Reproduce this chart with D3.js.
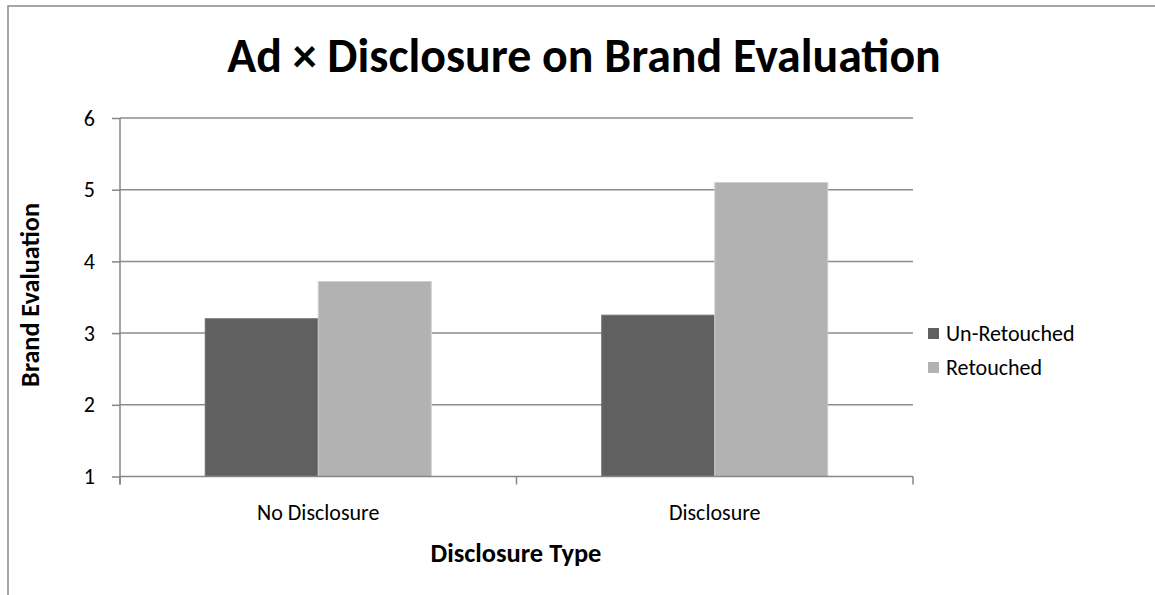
<!DOCTYPE html>
<html><head><meta charset="utf-8">
<script src="https://cdn.jsdelivr.net/npm/d3@7"></script>
<style>body{margin:0;background:#fff;} svg{display:block;} text{font-family:Carlito,Calibri,Lato,"Open Sans",sans-serif;fill:#000;}</style>
</head><body><svg id="c" width="1155" height="595"></svg>
<script>
const categories = ["No Disclosure", "Disclosure"];
const seriesNames = ["Un-Retouched", "Retouched"];
const unRetouched = [3.2, 3.25];
const retouched = [3.72, 5.1];
const yTicks = [1, 2, 3, 4, 5, 6];
const colors = ["#606060", "#b2b2b2"];
const strokes = ["#6e6e6e", "#cfcfcf"];

const svg = d3.select("#c");
const L = 120, R = 913, T = 118, B = 476.5;
const FS = 22;

function fit(sel, w) {
  const len = sel.node().getComputedTextLength();
  const fs = parseFloat(sel.attr("font-size"));
  sel.attr("font-size", fs * w / len);
}

// outer border
svg.append("rect").attr("x", 8).attr("y", 6).attr("width", 1200).attr("height", 700)
  .attr("fill", "none").attr("stroke", "#898989").attr("stroke-width", 1.5);

const x0 = d3.scaleBand().domain(categories).range([L, R]).paddingInner(0.43).paddingOuter(0.215);
const x1 = d3.scaleBand().domain(seriesNames).range([0, x0.bandwidth()]);
const y = d3.scaleLinear().domain([1, 6]).range([B, T]);

// grid
svg.append("g").selectAll("line").data(yTicks.slice(1)).join("line")
  .attr("x1", L).attr("x2", R).attr("y1", d => y(d)).attr("y2", d => y(d))
  .attr("stroke", "#8c8c8c").attr("stroke-width", 1.5);

// bars
const data = categories.map((c, i) => ({c, vals: [unRetouched[i], retouched[i]]}));
const g = svg.append("g").selectAll("g").data(data).join("g")
  .attr("transform", d => `translate(${x0(d.c)},0)`);
g.selectAll("rect").data(d => d.vals.map((v, j) => ({v, s: seriesNames[j], j}))).join("rect")
  .attr("x", d => x1(d.s)).attr("width", x1.bandwidth())
  .attr("y", d => y(d.v)).attr("height", d => y(1) - y(d.v))
  .attr("fill", d => colors[d.j]).attr("stroke", d => strokes[d.j]).attr("stroke-width", 1);

// axes
const yAxis = d3.axisLeft(y).tickValues(yTicks).tickSize(8).tickPadding(17).tickFormat(d3.format("d"));
const ya = svg.append("g").attr("transform", `translate(${L},0)`).call(yAxis);
ya.select(".domain").remove();
ya.selectAll(".tick line").attr("stroke", "#868686").attr("stroke-width", 1.5);
ya.selectAll(".tick text").attr("font-size", FS).attr("font-family", "Carlito,Calibri,Lato,sans-serif").attr("fill", "#000");
svg.append("line").attr("x1", L).attr("x2", L).attr("y1", T).attr("y2", B + 8)
  .attr("stroke", "#868686").attr("stroke-width", 1.5);

const xa = svg.append("g").attr("transform", `translate(0,${B})`);
xa.append("line").attr("x1", L).attr("x2", R).attr("stroke", "#868686").attr("stroke-width", 1.5);
const bounds = [L, (L + R) / 2, R];
xa.selectAll("line.t").data(bounds).join("line").attr("class", "t")
  .attr("x1", d => d).attr("x2", d => d).attr("y1", 0).attr("y2", 8)
  .attr("stroke", "#868686").attr("stroke-width", 1.5);
xa.selectAll("text").data(categories).join("text")
  .attr("x", d => x0(d) + x0.bandwidth() / 2).attr("y", 43)
  .attr("text-anchor", "middle").attr("font-size", FS).text(d => d);

// title
const title = svg.append("text").attr("x", 584).attr("y", 72).attr("text-anchor", "middle")
  .attr("font-weight", "bold").attr("font-size", 40).text("Ad × Disclosure on Brand Evaluation");
fit(title, 714);

// axis titles
const xt = svg.append("text").attr("x", 516).attr("y", 562).attr("text-anchor", "middle")
  .attr("font-weight", "bold").attr("font-size", 18).text("Disclosure Type");
fit(xt, 171);
const yt = svg.append("text").attr("transform", "translate(39,295) rotate(-90)").attr("text-anchor", "middle")
  .attr("font-weight", "bold").attr("font-size", 18).text("Brand Evaluation");
fit(yt, 184);

// legend
const legY = [333, 367];
const leg = svg.append("g").selectAll("g").data(seriesNames).join("g")
  .attr("transform", (d, i) => `translate(928,${legY[i]})`);
leg.append("rect").attr("x", 0).attr("y", -5).attr("width", 11).attr("height", 11)
  .attr("fill", (d, i) => colors[i]);
leg.append("text").attr("x", 18).attr("y", 8).attr("font-size", FS).text(d => d);
</script></body></html>
